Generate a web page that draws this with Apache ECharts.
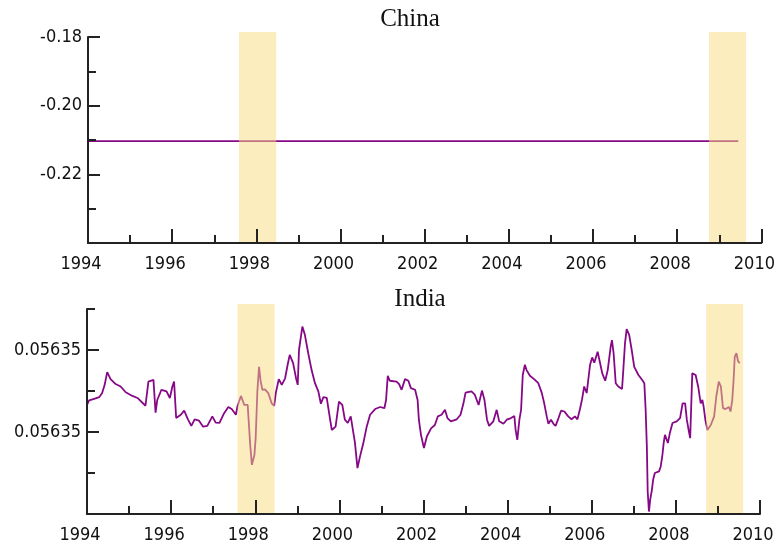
<!DOCTYPE html>
<html><head><meta charset="utf-8">
<script src="https://cdn.jsdelivr.net/npm/echarts@6/dist/echarts.min.js"></script>
<style>html,body{margin:0;padding:0;background:#fff}#c{width:778px;height:548px}</style>
</head><body><div id="c"></div>
<script>
// ---- data ----
const chinaTitle = 'China';
const indiaTitle = 'India';
const chinaDates = [1994.0, 2009.45];
const chinaValues = [-0.2103, -0.2103];
// India values: offset above 0.056348, in units of 1e-6
const indiaBase = 0.056348;
const indiaUnit = 1e-6;
const indiaDates = [
1994.00,1994.05,1994.17,1994.29,1994.36,1994.42,1994.48,1994.56,1994.68,1994.80,1994.92,
1995.08,1995.20,1995.39,1995.46,1995.58,1995.63,1995.67,1995.77,1995.89,1995.97,
1996.03,1996.07,1996.12,1996.23,1996.31,1996.40,1996.48,1996.56,1996.66,1996.76,1996.86,1996.98,
1997.06,1997.15,1997.26,1997.36,1997.44,1997.54,1997.58,1997.66,1997.74,1997.82,1997.88,1997.92,1997.98,
1998.01,1998.05,1998.09,1998.13,1998.17,1998.23,1998.31,1998.39,1998.45,1998.49,1998.56,1998.63,1998.71,1998.77,1998.82,1998.90,1998.97,
1999.01,1999.04,1999.12,1999.18,1999.26,1999.34,1999.42,1999.50,1999.56,1999.62,1999.70,1999.78,1999.82,1999.91,1999.99,
2000.07,2000.13,2000.20,2000.27,2000.31,2000.37,2000.43,2000.49,2000.57,2000.65,2000.73,2000.85,2000.97,
2001.07,2001.11,2001.15,2001.20,2001.36,2001.42,2001.48,2001.56,2001.64,2001.70,2001.80,2001.86,2001.89,2001.94,
2002.01,2002.08,2002.18,2002.27,2002.34,2002.43,2002.51,2002.57,2002.65,2002.79,2002.88,2002.95,
2003.00,2003.14,2003.22,2003.31,2003.39,2003.45,2003.51,2003.56,2003.66,2003.74,2003.80,2003.90,2003.98,
2004.08,2004.16,2004.19,2004.23,2004.28,2004.32,2004.36,2004.41,2004.45,2004.53,2004.63,2004.73,2004.81,2004.87,2004.93,2004.97,
2005.03,2005.09,2005.14,2005.21,2005.27,2005.35,2005.44,2005.52,2005.60,2005.66,2005.72,2005.77,2005.82,2005.88,2005.96,
2006.01,2006.06,2006.14,2006.19,2006.25,2006.32,2006.38,2006.45,2006.48,2006.52,2006.57,2006.63,2006.72,2006.75,2006.79,2006.83,2006.89,2006.95,
2007.01,2007.11,2007.20,2007.25,2007.28,2007.31,2007.33,2007.36,2007.39,2007.43,2007.46,2007.50,2007.60,2007.64,2007.68,2007.71,2007.74,2007.81,2007.86,2007.92,
2008.02,2008.10,2008.16,2008.22,2008.26,2008.31,2008.34,2008.39,2008.47,2008.53,2008.59,2008.63,2008.66,2008.70,2008.75,2008.83,2008.91,2008.96,
2009.02,2009.07,2009.12,2009.18,2009.26,2009.30,2009.34,2009.37,2009.40,2009.44,2009.48,2009.52
];
const indiaValues = [
2.66,2.77,2.81,2.85,2.95,3.15,3.46,3.29,3.17,3.11,2.97,
2.88,2.83,2.64,3.23,3.27,2.47,2.78,3.03,2.99,2.83,
3.11,3.23,2.34,2.42,2.52,2.31,2.15,2.31,2.28,2.13,2.15,2.38,
2.23,2.22,2.46,2.61,2.56,2.42,2.64,2.88,2.66,2.66,1.69,1.20,1.44,
1.85,2.99,3.59,3.23,3.03,3.04,2.95,2.70,2.64,2.96,3.29,3.15,3.31,3.64,3.88,3.68,3.31,
3.15,4.00,4.57,4.37,3.92,3.51,3.19,2.99,2.69,2.85,2.83,2.30,2.05,2.13,2.74,
2.66,2.30,2.22,2.38,2.42,1.74,1.12,1.40,1.73,2.13,2.42,2.56,2.61,
2.58,2.78,3.37,3.25,3.23,3.17,3.03,3.29,3.25,3.07,3.03,2.78,2.30,1.93,
1.61,1.89,2.09,2.17,2.38,2.42,2.54,2.34,2.26,2.31,2.42,2.70,
2.96,2.99,2.91,2.66,3.01,2.78,2.30,2.15,2.26,2.54,2.26,2.20,2.30,
2.34,2.39,2.05,1.81,2.30,2.54,3.39,3.64,3.51,3.37,3.29,3.19,2.96,2.70,2.38,2.20,
2.30,2.20,2.15,2.34,2.52,2.50,2.38,2.31,2.38,2.31,2.56,2.80,3.11,2.95,3.64,
3.82,3.69,3.96,3.72,3.43,3.25,3.51,4.08,4.24,3.92,3.19,3.11,3.05,3.51,4.16,4.51,4.37,4.00,
3.59,3.39,3.27,3.19,2.58,1.65,0.55,0.06,0.35,0.59,0.84,1.00,1.04,1.16,1.44,1.73,1.93,1.73,1.99,2.22,
2.26,2.34,2.70,2.70,2.30,2.01,1.85,3.43,3.39,3.11,2.70,2.78,2.62,2.30,2.05,2.17,2.38,2.86,
3.23,3.11,2.58,2.56,2.61,2.50,2.78,3.23,3.84,3.92,3.72,3.68
];
const shadedPeriods = [[1997.58, 1998.46], [2008.72, 2009.60]];
const yearMin = 1994, yearMax = 2010, yearStep = 2;
const chinaMin = -0.24, chinaMax = -0.18, chinaStep = 0.02;
const indiaMin = 0, indiaMax = 5;
const indiaMajorTicks = [2, 4];
const indiaMinorTicks = [1, 3, 5];

// ---- styles ----
const AX = '#222';
const LINE = '#860886';
const SHADE = 'rgba(249,219,127,0.5)';
const labelFont = "'Liberation Sans Narrow','DejaVu Sans Condensed','Arial Narrow','Liberation Sans',sans-serif";
const titleFont = "'Liberation Serif','Times New Roman',serif";
const LABEL_SIZE = 18;

function xAxisVisible(gi) {
  return {
    type: 'value', gridIndex: gi, min: yearMin, max: yearMax, interval: yearStep, z: 10,
    axisLine: { show: true, onZero: false, lineStyle: { color: AX, width: 2 } },
    axisTick: { show: true, inside: true, length: 14, lineStyle: { color: AX, width: 2 } },
    minorTick: { show: true, splitNumber: 2, length: 8, lineStyle: { color: AX, width: 2 } },
    splitLine: { show: false }, minorSplitLine: { show: false },
    axisLabel: { fontFamily: labelFont, fontSize: LABEL_SIZE, color: '#111', margin: 12, padding: [0, 14, 0, 0],
      formatter: v => String(Math.round(v)) }
  };
}
function hiddenX(gi) { return { type: 'value', gridIndex: gi, min: yearMin, max: yearMax, show: false }; }
function hiddenY(gi) { return { type: 'value', gridIndex: gi, min: 0, max: 1, show: false }; }
function shadeSeries(xi, yi) {
  return {
    type: 'line', xAxisIndex: xi, yAxisIndex: yi, data: [], silent: true,
    markArea: { silent: true, z: 5, itemStyle: { color: SHADE }, data: shadedPeriods.map(p => [{ xAxis: p[0] }, { xAxis: p[1] }]) }
  };
}
const zip = (a, b) => a.map((x, i) => [x, b[i]]);

const option = {
  animation: false,
  backgroundColor: '#fff',
  title: [
    { text: chinaTitle, left: 405, top: 2, textAlign: 'center', textStyle: { fontFamily: titleFont, fontSize: 25, fontWeight: 'normal', color: '#111' } },
    { text: indiaTitle, left: 415, top: 282, textAlign: 'center', textStyle: { fontFamily: titleFont, fontSize: 25, fontWeight: 'normal', color: '#111' } }
  ],
  grid: [
    { left: 88, right: 15, top: 37, bottom: 305 },
    { left: 88, right: 15, top: 32, bottom: 305 },
    { left: 87, right: 18, top: 309, bottom: 34 },
    { left: 87, right: 18, top: 304, bottom: 34 }
  ],
  xAxis: [xAxisVisible(0), hiddenX(1), xAxisVisible(2), hiddenX(3)],
  yAxis: [
    { type: 'value', gridIndex: 0, min: chinaMin, max: chinaMax, interval: chinaStep, z: 10,
      axisLine: { show: true, lineStyle: { color: AX, width: 2 } },
      axisTick: { show: true, inside: true, length: 12, lineStyle: { color: AX, width: 2 } },
      minorTick: { show: true, splitNumber: 2, length: 8, lineStyle: { color: AX, width: 2 } },
      splitLine: { show: false }, minorSplitLine: { show: false },
      axisLabel: { fontFamily: labelFont, fontSize: LABEL_SIZE, color: '#111', margin: 6,
        formatter: v => (Math.abs(v - chinaMin) < 1e-9 ? '' : v.toFixed(2)) } },
    hiddenY(1),
    { type: 'value', gridIndex: 2, min: indiaMin, max: indiaMax, z: 10,
      axisLine: { show: true, lineStyle: { color: AX, width: 2 } },
      axisTick: { show: true, inside: true, length: 12, customValues: indiaMajorTicks, lineStyle: { color: AX, width: 2 } },
      splitLine: { show: false },
      axisLabel: { fontFamily: labelFont, fontSize: LABEL_SIZE, color: '#111', margin: 6, customValues: indiaMajorTicks,
        formatter: v => (indiaBase + v * indiaUnit).toFixed(5) } },
    { type: 'value', gridIndex: 2, min: indiaMin, max: indiaMax, position: 'left', offset: 0, z: 10,
      axisLine: { show: false },
      axisTick: { show: true, inside: true, length: 8, customValues: indiaMinorTicks, lineStyle: { color: AX, width: 2 } },
      splitLine: { show: false }, axisLabel: { show: false } },
    hiddenY(3)
  ],
  series: [
    { name: chinaTitle, type: 'line', xAxisIndex: 0, yAxisIndex: 0, z: 2, showSymbol: false, symbol: 'none',
      lineStyle: { color: LINE, width: 1.8 }, data: zip(chinaDates, chinaValues) },
    shadeSeries(1, 1),
    { name: indiaTitle, type: 'line', xAxisIndex: 2, yAxisIndex: 2, z: 2, showSymbol: false, symbol: 'none',
      lineStyle: { color: LINE, width: 1.8 }, data: zip(indiaDates, indiaValues) },
    shadeSeries(3, 4)
  ]
};
const chart = echarts.init(document.getElementById('c'), null, { renderer: 'canvas' });
chart.setOption(option);
</script>
</body></html>
